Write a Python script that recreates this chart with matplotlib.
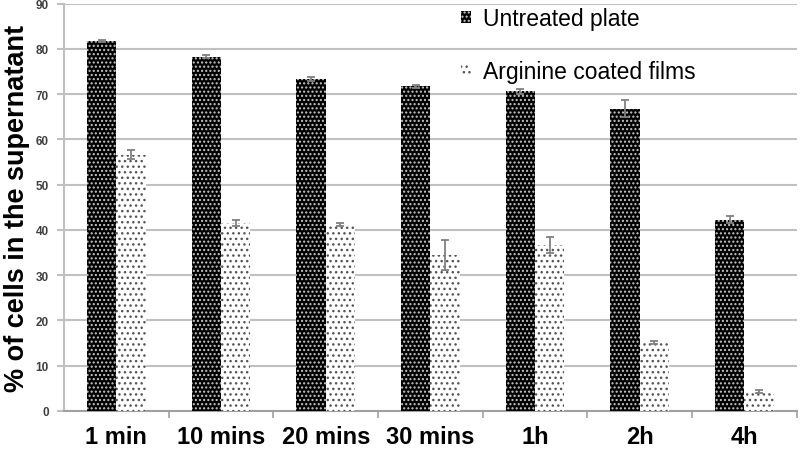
import matplotlib
matplotlib.use("Agg")
import matplotlib.pyplot as plt
from matplotlib.patches import Rectangle
import numpy as np

categories = ["1 min", "10 mins", "20 mins", "30 mins", "1h", "2h", "4h"]
untreated = [81.7, 78.3, 73.4, 71.7, 70.6, 66.8, 42.3]
untreated_err = [0.3, 0.4, 0.4, 0.3, 0.6, 1.8, 0.7]
arginine = [56.6, 41.6, 41.2, 34.5, 36.6, 15.1, 4.3]
arginine_err = [1.0, 0.7, 0.4, 3.3, 1.8, 0.4, 0.3]
series_names = ["Untreated plate", "Arginine coated films"]
yticks = [0, 10, 20, 30, 40, 50, 60, 70, 80, 90]

plt.rcParams['font.family'] = ['Liberation Sans', 'DejaVu Sans']
plt.rcParams['hatch.linewidth'] = 1.0

fig = plt.figure(figsize=(8, 4.56), dpi=100)
ax = fig.add_axes([0.080, 0.0965, 0.916, 0.8935])

x = np.arange(len(categories))
w = 0.28
ax.bar(x - w / 2, untreated, w, color='black', edgecolor='#c8c8c8',
       hatch='....', linewidth=0, zorder=3)
ax.bar(x + w / 2, arginine, w, color='white', edgecolor='#555555',
       hatch='...', linewidth=0, zorder=3)
ax.errorbar(x - w / 2, untreated, yerr=untreated_err, fmt='none',
            ecolor='#808080', elinewidth=1.3, capsize=3, capthick=1.3, zorder=4)
ax.errorbar(x + w / 2, arginine, yerr=arginine_err, fmt='none',
            ecolor='#808080', elinewidth=1.3, capsize=3, capthick=1.3, zorder=4)

ax.set_ylim(0, 90)
ax.set_xlim(-0.5, len(categories) - 0.5)
ax.set_yticks(yticks)
ax.set_yticklabels([str(v) for v in yticks], fontsize=8.5, fontweight='bold',
                   color='#404040')
ax.yaxis.grid(True, color='#c0c0c0', linewidth=1.5, zorder=0)
ax.set_axisbelow(True)

ax.set_xticks(x)
ax.set_xticklabels(categories, fontsize=17, fontweight='bold')
ax.tick_params(axis='x', which='major', length=0, pad=10)
ax.set_xticks(np.arange(len(categories)) + 0.5, minor=True)
ax.tick_params(axis='x', which='minor', length=5, color='#a0a0a0', width=1.2)
ax.tick_params(axis='y', length=5, color='#c0c0c0', width=1.5, pad=6)

for s in ['top', 'right']:
    ax.spines[s].set_visible(False)
ax.spines['left'].set_color('#c0c0c0')
ax.spines['left'].set_linewidth(1.5)
ax.spines['bottom'].set_color('#a0a0a0')
ax.spines['bottom'].set_linewidth(1.5)

ax.set_ylabel("% of cells in the supernatant", fontsize=19.5, fontweight='bold',
              labelpad=4)

h1 = Rectangle((0, 0), 1, 1, facecolor='black', edgecolor='#c8c8c8', hatch='....',
               linewidth=0)
h2 = Rectangle((0, 0), 1, 1, facecolor='white', edgecolor='#555555', hatch='...',
               linewidth=0)
ax.legend([h1, h2], series_names, loc='upper left',
          bbox_to_anchor=(452 / 800, 1 + 1 / 456), bbox_transform=fig.transFigure,
          frameon=False, fontsize=16.5, handlelength=0.45, handleheight=0.45,
          handletextpad=0.5, labelspacing=1.3, borderaxespad=0)

fig.savefig("out.png", dpi=100)
